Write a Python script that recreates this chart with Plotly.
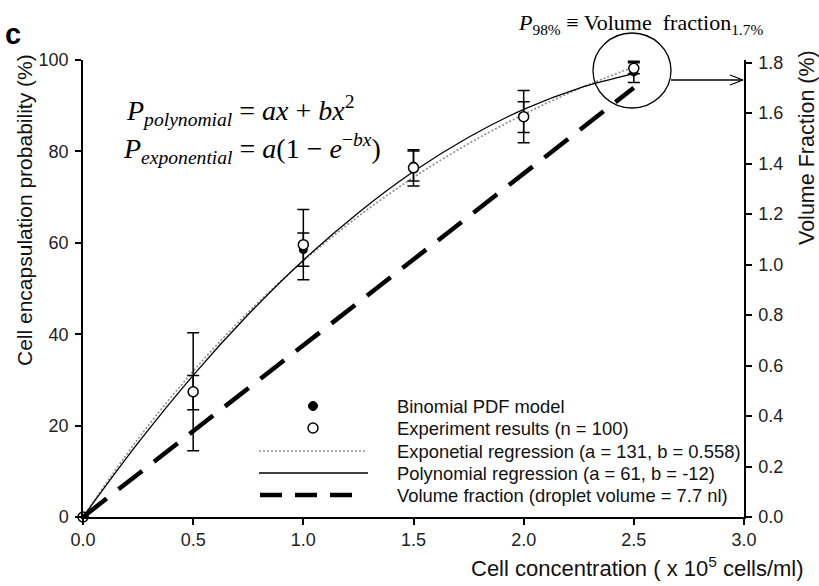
import plotly.graph_objects as go

# ---------------- data ----------------
conc = [0.0, 0.5, 1.0, 1.5, 2.0, 2.5]
binomial = [0.0, 27.2, 58.5, 76.8, 87.5, 97.4]
binomial_err = [0.0, 3.75, 3.65, 3.3, 3.35, 2.3]
experiment = [0.0, 27.4, 59.6, 76.4, 87.6, 98.2]
experiment_err = [0.0, 12.9, 7.7, 3.95, 5.7, 1.2]

curve_x = [0.0, 0.25, 0.5, 0.75, 1.0, 1.25, 1.5, 1.75, 2.0, 2.25, 2.5]
poly_fit = [0.0, 16.2, 31.0, 44.3, 56.2, 66.6, 75.6, 83.1, 89.2, 93.8, 97.0]
exp_fit = [0.0, 17.1, 31.9, 44.8, 56.0, 65.8, 74.3, 81.7, 88.1, 93.7, 98.5]

vol_x = [0.0, 0.5, 1.0, 1.5, 2.0, 2.5]
vol_frac = [0.0, 0.34, 0.68, 1.02, 1.36, 1.70]

x_ticks = [0.0, 0.5, 1.0, 1.5, 2.0, 2.5, 3.0]
y_ticks = [0, 20, 40, 60, 80, 100]
y2_ticks = [0.0, 0.2, 0.4, 0.6, 0.8, 1.0, 1.2, 1.4, 1.6, 1.8]

legend_labels = [
    "Binomial PDF model",
    "Experiment results (n = 100)",
    "Exponetial regression (a = 131, b = 0.558)",
    "Polynomial regression (a = 61, b = -12)",
    "Volume fraction (droplet volume = 7.7 nl)",
]

# ---------------- layout geometry (pixels) ----------------
W, H = 819, 586
L, R, T, B = 83, 75, 60, 69
PW, PH = W - L - R, H - T - B


def px(xp):
    return (xp - L) / PW


def py(yp):
    return (H - B - yp) / PH


SANS = "Liberation Sans, Arial, sans-serif"
SERIF = "Liberation Serif, Times New Roman, serif"

fig = go.Figure()

fig.add_trace(go.Scatter(
    x=curve_x, y=exp_fit, mode="lines", line_shape="spline",
    line=dict(color="#8c8c8c", width=1.6, dash="2px,2px"), showlegend=False))
fig.add_trace(go.Scatter(
    x=curve_x, y=poly_fit, mode="lines", line_shape="spline",
    line=dict(color="black", width=1.3), showlegend=False))

fig.add_trace(go.Scatter(
    x=conc, y=binomial, mode="markers", cliponaxis=False,
    marker=dict(symbol="circle", size=9, color="black"),
    error_y=dict(type="data", array=binomial_err, visible=True,
                 color="black", thickness=1.5, width=6),
    showlegend=False))
fig.add_trace(go.Scatter(
    x=conc, y=experiment, mode="markers", cliponaxis=False,
    marker=dict(symbol="circle", size=10, color="white",
                line=dict(color="black", width=1.5)),
    error_y=dict(type="data", array=experiment_err, visible=True,
                 color="black", thickness=1.5, width=6),
    showlegend=False))

fig.add_trace(go.Scatter(
    x=vol_x, y=vol_frac, yaxis="y2", mode="lines",
    line=dict(color="black", width=4.5, dash="30px,15px"), showlegend=False))

axis_common = dict(showline=True, linecolor="black", linewidth=1.5,
                   ticks="outside", ticklen=6, tickwidth=1.5, tickcolor="black",
                   showgrid=False, zeroline=False, automargin=False,
                   tickfont=dict(family=SANS, size=18, color="#222"))

fig.update_layout(
    width=W, height=H,
    margin=dict(l=L, r=R, t=T, b=B, pad=0),
    paper_bgcolor="white", plot_bgcolor="white",
    showlegend=False,
    xaxis=dict(range=[0, 3], tickvals=x_ticks,
               ticktext=[f"{v:.1f}" for v in x_ticks], **axis_common),
    yaxis=dict(range=[0, 100], tickvals=y_ticks, ticklabelstandoff=3,
               **axis_common),
    yaxis2=dict(range=[0, 1.81], overlaying="y", side="right",
                tickvals=y2_ticks, ticktext=[f"{v:.1f}" for v in y2_ticks],
                ticklabelstandoff=3, **axis_common),
)

ann = []
# axis titles
ann.append(dict(text="Cell encapsulation probability (%)", textangle=-90,
                x=px(24), y=py(210), xref="paper", yref="paper",
                xanchor="center", yanchor="middle", showarrow=False,
                font=dict(family=SANS, size=21, color="#111")))
ann.append(dict(text="Volume Fraction (%)", textangle=-90,
                x=px(807), y=py(148), xref="paper", yref="paper",
                xanchor="center", yanchor="middle", showarrow=False,
                font=dict(family=SANS, size=21.5, color="#111")))
ann.append(dict(text="Cell concentration ( x 10<sup>5</sup> cells/ml)",
                x=px(806), y=py(567), xref="paper", yref="paper",
                xanchor="right", yanchor="middle", showarrow=False,
                font=dict(family=SANS, size=22, color="#111")))
# panel label
ann.append(dict(text="<b>c</b>", x=px(3), y=py(34), xref="paper", yref="paper",
                xanchor="left", yanchor="middle", showarrow=False,
                font=dict(family=SANS, size=29, color="black")))
# equations
ann.append(dict(text="<i>P</i><sub><i>polynomial</i></sub> = <i>ax</i> + <i>bx</i><sup>2</sup>",
                x=px(124), y=py(110), xref="paper", yref="paper",
                xanchor="left", yanchor="middle", showarrow=False,
                font=dict(family=SERIF, size=28, color="black")))
ann.append(dict(text="<i>P</i><sub><i>exponential</i></sub> = <i>a</i>(1 \u2212 <i>e</i><sup>\u2212<i>bx</i></sup>)",
                x=px(121), y=py(149), xref="paper", yref="paper",
                xanchor="left", yanchor="middle", showarrow=False,
                font=dict(family=SERIF, size=28, color="black")))
ann.append(dict(text="<i>P</i><sub>98%</sub> \u2261 Volume\u00a0 fraction<sub>1.7%</sub>",
                x=px(516), y=py(24), xref="paper", yref="paper",
                xanchor="left", yanchor="middle", showarrow=False,
                font=dict(family=SERIF, size=22, color="black")))
# legend texts
rows = [406, 428, 451, 473, 495]
for lab, r in zip(legend_labels, rows):
    ann.append(dict(text=lab, x=px(395), y=py(r), xref="paper", yref="paper",
                    xanchor="left", yanchor="middle", showarrow=False,
                    font=dict(family=SANS, size=18.4, color="#111")))

shapes = []
# legend symbols
shapes.append(dict(type="circle", xref="paper", yref="paper",
                   xsizemode="pixel", ysizemode="pixel",
                   xanchor=px(313), yanchor=py(rows[0]),
                   x0=-4.5, x1=4.5, y0=-4.5, y1=4.5,
                   fillcolor="black", line=dict(color="black", width=1)))
shapes.append(dict(type="circle", xref="paper", yref="paper",
                   xsizemode="pixel", ysizemode="pixel",
                   xanchor=px(313), yanchor=py(rows[1]),
                   x0=-5, x1=5, y0=-5, y1=5,
                   fillcolor="white", line=dict(color="black", width=1.5)))
shapes.append(dict(type="line", xref="paper", yref="paper",
                   x0=px(259), x1=px(366), y0=py(rows[2]), y1=py(rows[2]),
                   line=dict(color="#8c8c8c", width=1.6, dash="2px,2px")))
shapes.append(dict(type="line", xref="paper", yref="paper",
                   x0=px(259), x1=px(368), y0=py(rows[3]), y1=py(rows[3]),
                   line=dict(color="black", width=1.3)))
shapes.append(dict(type="line", xref="paper", yref="paper",
                   x0=px(260), x1=px(356), y0=py(rows[4]), y1=py(rows[4]),
                   line=dict(color="black", width=4.5, dash="22px,13px")))
# circle highlight and arrow
shapes.append(dict(type="circle", xref="paper", yref="paper",
                   x0=px(593), x1=px(671), y0=py(108), y1=py(33),
                   line=dict(color="black", width=1.3)))
ay = 80
shapes.append(dict(type="line", xref="paper", yref="paper",
                   x0=px(671), x1=px(743), y0=py(ay), y1=py(ay),
                   line=dict(color="black", width=1.3)))
shapes.append(dict(type="line", xref="paper", yref="paper",
                   x0=px(730), x1=px(743), y0=py(ay - 5), y1=py(ay),
                   line=dict(color="black", width=1.3)))
shapes.append(dict(type="line", xref="paper", yref="paper",
                   x0=px(730), x1=px(743), y0=py(ay + 5), y1=py(ay),
                   line=dict(color="black", width=1.3)))

fig.update_layout(annotations=ann, shapes=shapes)

fig.write_html("out.html",
               config={"displayModeBar": False},
               post_script="document.body.style.margin='0';document.body.style.overflow='hidden';")
